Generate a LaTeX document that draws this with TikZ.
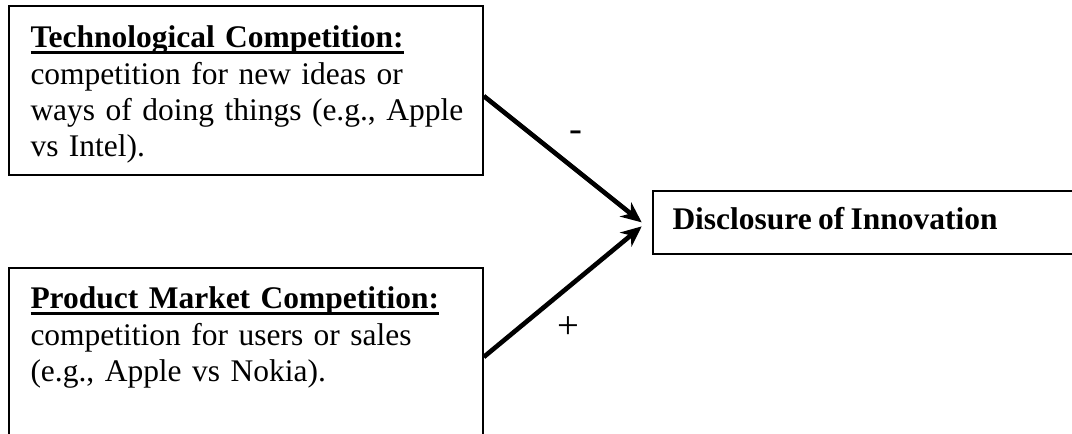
\documentclass[tikz,border=0pt]{standalone}
\usepackage{fontspec}
\setmainfont[WordSpace=0.8]{Liberation Serif}
\usetikzlibrary{arrows.meta}
\newcommand{\ulbold}[1]{\setbox0\hbox{\textbf{#1}}\rlap{\rule[-2.3pt]{\wd0}{1pt}}\box0}
\begin{document}
\begin{tikzpicture}[x=0.3876pt,y=-0.3876pt]
            \tikzstyle{every node}=[inner sep=0pt,font=\fontsize{12.2}{14}\selectfont]
            \tikzstyle{framebox}=[draw,line width=0.8pt,rectangle,anchor=north west]
            \tikzstyle{boxtext}=[anchor=base west,text width=175pt,align=left]
            \tikzstyle{link}=[line width=1.8pt,-{Stealth[length=8pt,width=7pt,inset=2.5pt]}]
            \tikzstyle{sign}=[anchor=base,font=\fontsize{15}{17}\selectfont]
            \useasboundingbox (0,0) rectangle (1072,434);
            \clip (0,0) rectangle (1072,434);
            \draw (8.3,5) node [framebox,minimum width=183.5pt,minimum height=65.5pt] (tech) {};
            \draw (8.3,266.7) node [framebox,minimum width=183.5pt,minimum height=69.2pt] (prod) {};
            \draw (651.7,190) node [framebox,minimum width=182pt,minimum height=24.3pt] (disc) {};
            \draw (30,48) node [boxtext] (techtext) {\ulbold{Technological Competition:}\\
                competition for new ideas or\\
                ways of doing things (e.g., Apple\\
                vs Intel).};
            \draw (30,309) node [boxtext] (prodtext) {\ulbold{Product Market Competition:}\\
                competition for users or sales\\
                (e.g., Apple vs Nokia).};
            \draw (672,230) node [anchor=base west] (disctext) {\textbf{Disclosure of Innovation}};
            \coordinate (tipA) at ([shift={(-10,0)}]disc.west);
            \coordinate (tipB) at ([shift={(-10,4)}]disc.west);
            \draw[link] ([shift={(0,5.5)}]tech.east) -- (tipA);
            \draw[link] (prod.east) -- (tipB);
            \draw (576,142) node [sign] (minus) {-};
            \draw (568,339) node [sign] (plus) {+};
        \end{tikzpicture}
\end{document}
